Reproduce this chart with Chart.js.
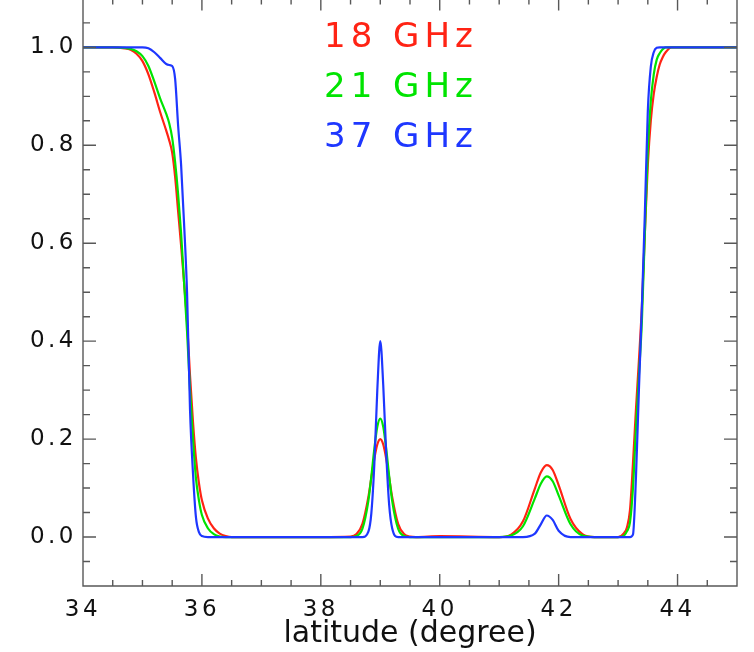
<!DOCTYPE html>
<html><head><meta charset="utf-8">
<script src="https://cdn.jsdelivr.net/npm/chart.js@4.4.1/dist/chart.umd.min.js"></script>
<style>
html,body{margin:0;padding:0;background:#fff;overflow:hidden;width:754px;height:652px;}
#wrap{position:absolute;left:0;top:-2px;width:754px;height:700px;}
</style></head><body>
<div id="wrap"><canvas id="c"></canvas></div>
<script>
const latitude = [34.0, 34.5, 34.7, 34.8, 34.9, 35.0, 35.1, 35.2, 35.3, 35.4,
  35.45, 35.5, 35.55, 35.6, 35.65, 35.7, 35.75, 35.8, 35.85, 35.9,
  35.95, 36.0, 36.1, 36.2, 36.3, 36.4, 36.5, 37.0, 38.0, 38.5,
  38.6, 38.7, 38.8, 38.85, 38.9, 38.95, 39.0, 39.05, 39.1, 39.15,
  39.2, 39.3, 39.4, 39.5, 39.6, 40.0, 41.0, 41.2, 41.4, 41.6,
  41.7, 41.8, 41.9, 42.0, 42.2, 42.4, 42.6, 43.0, 43.1, 43.15,
  43.2, 43.25, 43.3, 43.35, 43.4, 43.45, 43.5, 43.55, 43.6, 43.65,
  43.7, 43.75, 43.8, 43.9, 44.0, 45.0];

const ghz18 = [1.0, 1.0, 0.998, 0.995, 0.987, 0.972, 0.945, 0.908, 0.867, 0.830,
  0.810, 0.785, 0.735, 0.665, 0.595, 0.520, 0.440, 0.330, 0.235, 0.160,
  0.110, 0.075, 0.038, 0.018, 0.007, 0.002, 0.0, 0.0, 0.0, 0.001,
  0.006, 0.027, 0.082, 0.121, 0.160, 0.189, 0.200, 0.189, 0.160, 0.121,
  0.082, 0.027, 0.006, 0.001, 0.0, 0.002, 0.0, 0.005, 0.032, 0.099,
  0.132, 0.147, 0.137, 0.106, 0.037, 0.006, 0.0, 0.0, 0.008, 0.020,
  0.055, 0.150, 0.260, 0.360, 0.470, 0.620, 0.760, 0.850, 0.905, 0.940,
  0.965, 0.980, 0.990, 1.0, 1.0, 1.0];

const ghz21 = [1.0, 1.0, 0.999, 0.997, 0.992, 0.982, 0.962, 0.930, 0.895, 0.864,
  0.845, 0.815, 0.765, 0.700, 0.620, 0.520, 0.420, 0.300, 0.200, 0.120,
  0.075, 0.045, 0.018, 0.006, 0.001, 0.0, 0.0, 0.0, 0.0, 0.0,
  0.002, 0.017, 0.074, 0.124, 0.180, 0.225, 0.242, 0.225, 0.180, 0.124,
  0.074, 0.017, 0.002, 0.0, 0.0, 0.0, 0.0, 0.003, 0.022, 0.079,
  0.109, 0.124, 0.114, 0.085, 0.026, 0.003, 0.0, 0.0, 0.003, 0.012,
  0.030, 0.100, 0.220, 0.330, 0.440, 0.620, 0.790, 0.890, 0.945, 0.975,
  0.988, 0.996, 1.0, 1.0, 1.0, 1.0];

const ghz37 = [1.0, 1.0, 1.0, 1.0, 1.0, 1.0, 0.998, 0.990, 0.978, 0.966,
  0.964, 0.962, 0.935, 0.840, 0.760, 0.640, 0.500, 0.260, 0.130, 0.040,
  0.010, 0.002, 0.0, 0.0, 0.0, 0.0, 0.0, 0.0, 0.0, 0.0,
  0.0, 0.0, 0.011, 0.049, 0.148, 0.300, 0.400, 0.310, 0.170, 0.065,
  0.018, 0.0, 0.0, 0.0, 0.0, 0.0, 0.0, 0.0, 0.0, 0.007,
  0.026, 0.044, 0.035, 0.013, 0.0, 0.0, 0.0, 0.0, 0.0, 0.0,
  0.0, 0.005, 0.120, 0.300, 0.470, 0.660, 0.870, 0.960, 0.990, 0.999,
  1.0, 1.0, 1.0, 1.0, 1.0, 1.0];

const seriesLabels = ['18 GHz', '21 GHz', '37 GHz'];
const seriesColors = ['rgb(255,35,20)', 'rgb(0,228,0)', 'rgb(30,55,255)'];
const xTickLabels = [34, 36, 38, 40, 42, 44];
const yTickLabels = [0.0, 0.2, 0.4, 0.6, 0.8, 1.0];
const xAxisTitle = 'latitude (degree)';

const seriesValues = [ghz18, ghz21, ghz37];
const datasets = seriesValues.map((vals, i) => ({
  label: seriesLabels[i],
  data: latitude.map((x, k) => ({ x: x, y: vals[k] })),
  borderColor: seriesColors[i],
  backgroundColor: seriesColors[i],
  borderWidth: 2.2,
  pointRadius: 0,
  fill: false,
  cubicInterpolationMode: 'monotone',
  order: 3 - i
}));

const frame = {
  id: 'frame',
  beforeDraw(chart) { chart.ctx.letterSpacing = '0px'; },
  afterDatasetsDraw(chart) { chart.ctx.letterSpacing = '3.5px'; },
  afterDraw(chart) {
    const { ctx, chartArea: a, scales: { x, y } } = chart;
    ctx.save();
    ctx.letterSpacing = '0px';
    ctx.strokeStyle = '#585858';
    ctx.lineWidth = 1.4;
    ctx.beginPath();
    ctx.rect(a.left, a.top, a.right - a.left, a.bottom - a.top);
    for (let k = 0; k <= 22; k++) {
      const px = x.getPixelForValue(34 + k * 0.5);
      const L = (k % 4 === 0) ? 12 : 6;
      ctx.moveTo(px, a.bottom); ctx.lineTo(px, a.bottom - L);
      ctx.moveTo(px, a.top); ctx.lineTo(px, a.top + L);
    }
    for (let k = 0; k <= 24; k++) {
      const py = y.getPixelForValue(-0.1 + k * 0.05);
      const L = (k >= 2 && (k - 2) % 4 === 0) ? 13 : 7;
      ctx.moveTo(a.left, py); ctx.lineTo(a.left + L, py);
      ctx.moveTo(a.right, py); ctx.lineTo(a.right - L, py);
    }
    ctx.stroke();
    // legend text
    ctx.letterSpacing = '5px';
    ctx.font = '34px "DejaVu Sans"';
    ctx.textAlign = 'left';
    ctx.textBaseline = 'alphabetic';
    chart.data.datasets.forEach((ds, i) => {
      ctx.fillStyle = ds.borderColor;
      ctx.fillText(ds.label, 324, 48.5 + i * 50);
    });
    ctx.restore();
  }
};

new Chart(document.getElementById('c'), {
  type: 'line',
  data: { datasets: datasets },
  plugins: [frame],
  options: {
    responsive: true,
    maintainAspectRatio: false,
    animation: false,
    layout: { padding: { top: 0.4, right: 17, bottom: 0, left: 0 } },
    plugins: { legend: { display: false }, tooltip: { enabled: false } },
    scales: {
      x: {
        type: 'linear', min: 34, max: 45,
        grid: { display: false, drawTicks: false },
        border: { display: false },
        ticks: {
          stepSize: 1, autoSkip: false, maxRotation: 0, padding: 10, z: 1,
          color: '#111', font: { family: 'DejaVu Sans', size: 23 },
          callback: (v) => xTickLabels.includes(v) ? String(v) : ''
        },
        title: {
          display: true, text: xAxisTitle, color: '#111',
          font: { family: 'DejaVu Sans', size: 30 },
          padding: { top: 0, bottom: 46 }
        },
        afterFit: (s) => { s.height = 112; s.paddingLeft = 0; s.paddingRight = 0; }
      },
      y: {
        type: 'linear', min: -0.1, max: 1.1,
        grid: { display: false, drawTicks: false },
        border: { display: false },
        ticks: {
          stepSize: 0.1, autoSkip: false, padding: 6, z: 1,
          color: '#111', font: { family: 'DejaVu Sans', size: 23 },
          callback: (v) => {
            const t = yTickLabels.find(t => Math.abs(t - v) < 1e-6);
            return t === undefined ? '' : Math.abs(t).toFixed(1);
          }
        },
        afterFit: (s) => { s.width = 83; s.paddingTop = 0; s.paddingBottom = 0; }
      }
    }
  }
});
</script>
</body></html>
